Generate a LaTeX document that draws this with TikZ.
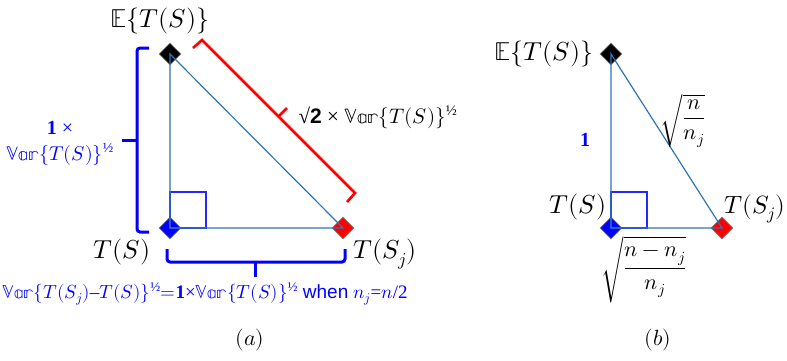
\documentclass[tikz,border=0pt]{standalone}
\usepackage{fontspec}
\usepackage{unicode-math}
\setmainfont{Liberation Serif}
\newfontfamily\sansfont{Liberation Sans}
\usetikzlibrary{shapes.geometric,positioning}
\definecolor{Edge}{HTML}{2E75B6}
\definecolor{Mark}{HTML}{0000FF}
\definecolor{Brace}{HTML}{FF0000}
\definecolor{Rim}{HTML}{7F7F7F}
\newcommand{\half}{\textsuperscript{½}}
\newcommand{\VarTS}{$\mathbb{Var}\{T(S)\}$\half}

\begin{document}
\begin{tikzpicture}[x=1pt,y=-1pt,
  pt/.style={diamond,draw=Rim,line width=0.6pt,minimum size=22pt,inner sep=0pt},
  side/.style={draw=Edge,line width=1.2pt},
  corner/.style={draw=Mark!85,line width=1.4pt},
  bbrack/.style={draw=Mark,line width=3pt,rounded corners=3pt},
  rbrack/.style={draw=Brace,line width=2.6pt},
  big/.style={font=\fontsize{26}{28}\selectfont},
  note/.style={text=Mark,font=\fontsize{20}{26}\selectfont},
  caption/.style={font=\fontsize{22}{24}\selectfont}
]
\useasboundingbox (0,0) rectangle (787,360);
% panel (a)
\node[pt,fill=black] (ta) at (170,54) {};
\node[pt,fill=Mark] (la) at (170,228) {};
\node[pt,fill=Brace] (ra) at (343,228) {};
\draw[corner] (la.center) rectangle ++(36,-36);
\draw[side] (ta.center) -- (la.center) -- (ra.center) -- cycle;
\node[big] (ea) at (160,21) {$\mathbb{E}\{T(S)\}$};
\node[big] (tsa) at (122,252) {$T(S)$};
\node[big] (tja) at (385,254) {$T(S_j)$};
% brackets
\draw[bbrack] (149,48) -- (137,48) -- (137,232) -- (149,232);
\draw[bbrack] (137,140) -- (122,140);
\draw[bbrack] (167,249) -- (167,262) -- (345,262) -- (345,249);
\draw[bbrack] (255,262) -- (255,277);
\draw[rbrack] (193,48) -- (202,40) -- (355,193) -- (347,202);
\draw[rbrack] (278,117) -- (287,108);
\node[note,align=center] (va) at (60,143) {\textbf{1} ×\\ \VarTS};
\node[font=\fontsize{21}{23}\selectfont] (ha) at (378,117) {√{\sansfont\bfseries 2} × \VarTS};
\node[note,font=\fontsize{19}{21}\selectfont] (wa) at (205,294) {$\mathbb{Var}\{T(S_j)$–$T(S)\}$\half$=$\textbf{1}×\VarTS{} {\sansfont when} $n_j$=$n$/2};
\node[caption] (ca) at (250,340) {$(a)$};
% panel (b)
\node[pt,fill=black] (tb) at (611,54) {};
\node[pt,fill=Mark] (lb) at (611,228) {};
\node[pt,fill=Brace] (rb) at (722,228) {};
\draw[corner] (lb.center) rectangle ++(36,-36);
\draw[side] (tb.center) -- (lb.center) -- (rb.center) -- cycle;
\node[big,left=3pt of tb] (eb) {$\mathbb{E}\{T(S)\}$};
\node[note,font=\fontsize{20}{22}\selectfont\bfseries] (ob) at (585,140) {1};
\node[font=\fontsize{22}{24}\selectfont] (hb) at (683,121) {$\displaystyle\sqrt{\frac{n}{n_j}}$};
\node[big] (tsb) at (578,207) {$T(S)$};
\node[big,font=\fontsize{25}{27}\selectfont] (tjb) at (755,209) {$T(S_j)$};
\node[font=\fontsize{22}{24}\selectfont] (bb) at (644,270) {$\displaystyle\sqrt{\frac{n-n_j}{n_j}}$};
\node[caption] (cb) at (658,340) {$(b)$};
\end{tikzpicture}
\end{document}
